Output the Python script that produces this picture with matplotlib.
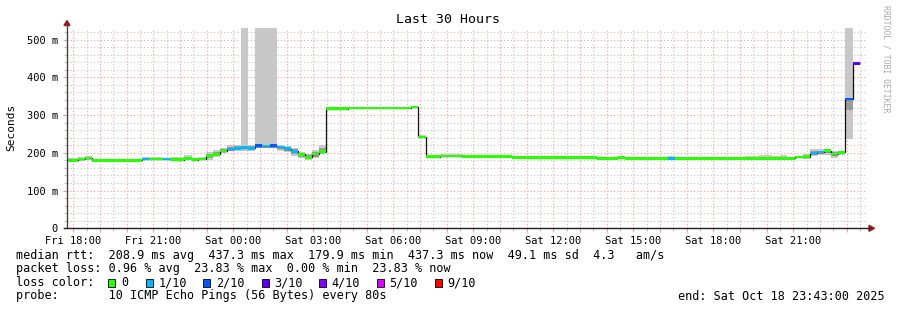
import numpy as np
import matplotlib.pyplot as plt
from matplotlib.patches import Rectangle, Polygon
from matplotlib.lines import Line2D

# Segment edges in hours after Fri 18:00 (16 min consolidation steps, merged where flat)
edges = [-0.24, 0.18, 0.44, 0.70, 2.58, 2.84, 3.36, 3.63, 4.15, 4.45,
         4.68, 4.98, 5.24, 5.50, 5.76, 6.03, 6.29, 6.55, 6.81, 7.08,
         7.38, 7.64, 7.90, 8.16, 8.43, 8.69, 8.95, 9.21, 9.48, 10.30,
         11.35, 12.66, 12.93, 13.23, 13.75, 14.58, 16.45, 17.01, 19.64, 20.43,
         20.69, 22.30, 22.56, 25.19, 25.71, 26.20, 26.54, 26.76, 27.06, 27.36,
         27.63, 27.89, 28.15, 28.41, 28.68, 28.94, 29.23, 29.50]

# Median rtt per segment (ms)
median = [180, 183, 186, 180, 183, 184, 184, 182, 185, 182,
          184, 193, 196, 205, 210, 212, 214, 212, 219, 218,
          219, 216, 211, 204, 196, 188, 197, 203, 317, 318.5,
          319, 321, 242, 190, 192, 190.5, 188, 187.5, 185.5, 187.5,
          185.5, 185.5, 185.5, 185.5, 185.5, 185.5, 185.5, 185.5, 189, 190,
          200, 202, 206, 197, 201, 343, 437]

# Packet loss per segment (out of 10 pings)
loss = [0, 0, 0, 0, 1, 0, 1, 0, 0, 0,
        0, 0, 0, 0, 1, 1, 1, 1, 2, 1,
        2, 1, 1, 1, 0, 0, 0, 0, 0, 0,
        0, 0, 0, 0, 0, 0, 0, 0, 0, 0,
        0, 1, 0, 0, 0, 0, 0, 0, 0, 0,
        1, 1, 0, 0, 0, 2, 3]

# Smoke: full ping range (light) and inner range (dark), ms
smoke_lo = [176, 179, 182, 178, 180, 181, 181, 179, 182, 179,
            180, 182, 188, 199, 204, 206, 206, 206, 212, 212,
            212, 205, 202, 192, 185, 182, 186, 197, 315, 316,
            317, 319, 239, 188, 189, 189, 186, 186, 184, 185,
            184, 184, 184, 184, 184, 184, 184, 184, 186, 184,
            191, 193, 195, 187, 195, 236, 433]
smoke_hi = [187, 190, 191, 183, 190, 188, 187, 189, 194, 186,
            189, 202, 208, 214, 220, 221, 540, 222, 540, 540,
            540, 221, 218, 213, 201, 198, 208, 221, 320, 322,
            321, 324, 248, 192, 196, 193, 190, 190, 188, 190,
            189, 192, 188, 191, 193, 191, 193, 189, 192, 197,
            210, 209, 211, 204, 206, 540, 440]
dark_lo = [178, 181, 184, 179, 181, 182, 182, 180, 183, 180,
           182, 186, 191, 201, 206, 208, 209, 208, 214, 214,
           214, 210, 205, 196, 190, 184, 190, 200, 316, 317,
           318, 320, 240, 189, 190, 189, 187, 186, 184, 186,
           184, 184, 184, 184, 184, 184, 184, 184, 187, 186,
           195, 197, 199, 191, 197, 313, 434]
dark_hi = [183, 186, 189, 182, 186, 186, 186, 184, 188, 184,
           187, 198, 202, 209, 215, 217, 219, 217, 222, 221,
           222, 219, 215, 209, 199, 193, 203, 214, 319, 320,
           320, 322, 245, 191, 194, 192, 189, 189, 187, 189,
           187, 187, 187, 187, 188, 187, 188, 187, 191, 194,
           205, 206, 209, 201, 204, 343, 438]

loss_colors = {0: '#26ff00', 1: '#00b8ff', 2: '#0059ff', 3: '#5e00ff',
               4: '#7e00ff', 5: '#dd00ff', 9: '#ff0000'}
loss_labels = ['0', '1/10', '2/10', '3/10', '4/10', '5/10', '9/10']

x_tick_labels = ['Fri 18:00', 'Fri 21:00', 'Sat 00:00', 'Sat 03:00', 'Sat 06:00',
                 'Sat 09:00', 'Sat 12:00', 'Sat 15:00', 'Sat 18:00', 'Sat 21:00']
y_tick_values = [0, 100, 200, 300, 400, 500]
y_tick_labels = ['0', '100 m', '200 m', '300 m', '400 m', '500 m']

MONO = 'DejaVu Sans Mono'
W, H = 897, 310


def fpos(x, y):
    # pixel position (from top-left) to figure fraction
    return x / W, 1 - y / H


fig = plt.figure(figsize=(W / 100, H / 100), dpi=100)
ax = fig.add_axes([67 / W, (H - 228.3) / H, 800 / W, 200 / H])

left = np.array(edges[:-1])
width = np.diff(edges)
med = np.array(median)

# smoke
ax.bar(left, np.array(smoke_hi) - np.array(smoke_lo), width, bottom=smoke_lo,
       align='edge', color='#c8c8c8', linewidth=0, zorder=2)
ax.bar(left, np.array(dark_hi) - np.array(dark_lo), width, bottom=dark_lo,
       align='edge', color='#9a9a9a', linewidth=0, zorder=2.1)

# median step line and loss-coloured band
ax.stairs(med, edges, baseline=None, color='#111111', linewidth=0.9, zorder=3)
ax.bar(left, 6.4, width, bottom=med - 3.2, align='edge',
       color=[loss_colors[l] for l in loss], linewidth=0, zorder=4)

# axes limits and grid
ax.set_xlim(-0.24, 29.76)
ax.set_ylim(0, 530)
ax.set_xticks(np.arange(0, 30, 1))
ax.set_xticklabels([x_tick_labels[i // 3] if i % 3 == 0 else '' for i in range(30)])
ax.set_xticks(np.arange(0.5, 30, 1), minor=True)
ax.set_yticks(y_tick_values)
ax.set_yticklabels(y_tick_labels)
ax.set_yticks([v for v in range(20, 530, 20) if v % 100], minor=True)
ax.set_axisbelow(True)
ax.grid(which='major', color='#ff9a9a', linestyle=(0, (1, 2)), linewidth=0.8)
ax.grid(which='minor', color='#c4c4c4', linestyle=(0, (1, 2)), linewidth=0.8)
ax.tick_params(which='major', direction='out', length=3, width=0.8, color='#ff9a9a',
               labelsize=7.5, pad=2.5)
ax.tick_params(which='minor', direction='out', length=2.5, width=0.8, color='#c4c4c4')
ax.tick_params(axis='y', which='major', pad=3.5)
for lab in ax.get_xticklabels() + ax.get_yticklabels():
    lab.set_family(MONO)
for s in ax.spines.values():
    s.set_visible(False)

# axis lines with arrows, drawn in figure pixels
fig.add_artist(Line2D(*zip(fpos(67, 228.3), fpos(67, 24)), color='#444444', lw=1))
fig.add_artist(Line2D(*zip(fpos(64, 228.3), fpos(870, 228.3)), color='#222222', lw=1))
fig.add_artist(Polygon([fpos(64, 25.5), fpos(70, 25.5), fpos(67, 20.5)],
                       closed=True, transform=fig.transFigure, color='#9b1c1c'))
fig.add_artist(Polygon([fpos(869, 225.3), fpos(869, 231.3), fpos(874.5, 228.3)],
                       closed=True, transform=fig.transFigure, color='#9b1c1c'))

# titles
fig.text(*fpos(447.7, 19.5), 'Last 30 Hours', ha='center', va='center',
         fontsize=9.5, family=MONO)
fig.text(*fpos(11, 127), 'Seconds', ha='center', va='center', rotation=90,
         fontsize=8, family=MONO)
fig.text(*fpos(886, 59), 'RRDTOOL / TOBI OETIKER', ha='center', va='center',
         rotation=-90, fontsize=5.9, family=MONO, color='#aaaaaa')

# legend block
lines = [
    (255, 'median rtt:  208.9 ms avg  437.3 ms max  179.9 ms min  437.3 ms now  49.1 ms sd  4.3   am/s'),
    (268.5, 'packet loss: 0.96 % avg  23.83 % max  0.00 % min  23.83 % now'),
    (282.5, 'loss color:'),
    (296, 'probe:       10 ICMP Echo Pings (56 Bytes) every 80s'),
]
for y, txt in lines:
    fig.text(*fpos(16, y), txt, ha='left', va='center', fontsize=8.5, family=MONO)

square_x = [108.3, 145.7, 203.3, 261.7, 319.3, 376.7, 435.0]
for sx, key, lab in zip(square_x, loss_colors, loss_labels):
    fig.add_artist(Rectangle(fpos(sx, 286.5), 7 / W, 8 / H, transform=fig.transFigure,
                             facecolor=loss_colors[key], edgecolor='#000000', linewidth=0.6))
    fig.text(*fpos(sx + 12.5, 282.5), lab, ha='left', va='center', fontsize=8.5, family=MONO)

fig.text(*fpos(678.3, 296), 'end: Sat Oct 18 23:43:00 2025', ha='left', va='center',
         fontsize=8.5, family=MONO)

fig.savefig('out.png', dpi=100)
